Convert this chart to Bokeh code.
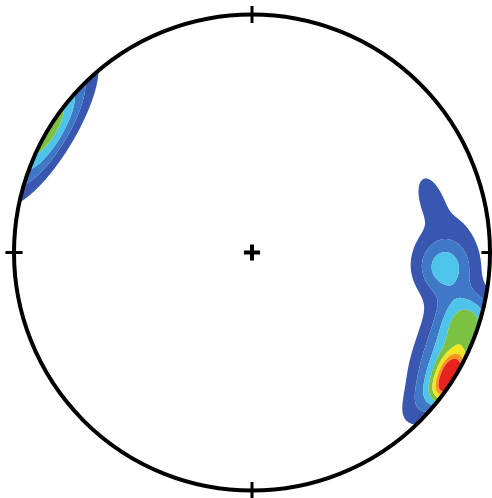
import numpy as np
from bokeh.plotting import figure
from bokeh.models import Range1d
from bokeh.embed import file_html
from bokeh.resources import INLINE

# Pole concentrations (lower hemisphere, equal-area net)
peak_trend = [94.7, 88.0, 106.9, 114.4, 123.6, 120.0, 124.6, 132.2, 72.2, 301.0]
peak_plunge = [20.1, 18.7, 5.2, 6.0, 3.0, 2.8, 1.1, 4.8, 22.9, 0.0]
spread_along = [0.08, 0.18, 0.08, 0.10, 0.10, 0.05, 0.05, 0.10, 0.07, 0.21]
spread_across = [0.08, 0.12, 0.085, 0.10, 0.10, 0.037, 0.037, 0.06, 0.035, 0.065]
peak_weight = [2.6, 1.2, 3.0, 2.8, 2.8, 3.6, 3.6, 1.2, 1.3, 4.6]

# Density contour intervals and their fills
contour_levels = [1, 2, 3, 4, 5, 6, 7, 1000]
contour_colors = ["#3957b0", "#3f78c6", "#4ec4ea", "#7cc242",
                  "#f2e51d", "#f7941d", "#e8231f"]

# Cardinal tick directions (degrees)
tick_trends = [0, 90, 180, 270]


def project(trend, plunge):
    r = np.sqrt(2.0) * np.sin(np.radians(90.0 - plunge) / 2.0)
    t = np.radians(trend)
    return r * np.sin(t), r * np.cos(t)


gx = np.linspace(-1.06, 1.06, 641)
gy = np.linspace(-1.06, 1.06, 641)
xx, yy = np.meshgrid(gx, gy)
dens = np.zeros_like(xx)
for tr, pl, sa, sc, w in zip(peak_trend, peak_plunge, spread_along,
                             spread_across, peak_weight):
    cx, cy = project(tr, pl)
    rr = np.hypot(cx, cy)
    ux, uy = (cx / rr, cy / rr) if rr > 0 else (0.0, 1.0)
    vx, vy = -uy, ux
    dx, dy = xx - cx, yy - cy
    dr = dx * ux + dy * uy
    dt = dx * vx + dy * vy
    dens += w * np.exp(-0.5 * (dr ** 2 / sc ** 2 + dt ** 2 / sa ** 2))
dens[np.hypot(xx, yy) > 1.0] = np.nan

R_PX = 238.0
p = figure(width=492, height=498,
           x_range=Range1d(-251.5 / R_PX, 240.5 / R_PX),
           y_range=Range1d(-246 / R_PX, 252 / R_PX),
           output_backend="svg", toolbar_location=None, min_border=0)
p.axis.visible = False
p.grid.visible = False
p.outline_line_color = None
p.background_fill_color = "white"

p.contour(gx, gy, dens, levels=contour_levels, fill_color=contour_colors,
          line_color=None)

# Primitive circle
p.circle(x=[0], y=[0], radius=1.0, fill_color=None, line_color="black",
         line_width=4)

# Cardinal ticks
tt = np.radians(tick_trends)
p.segment(x0=0.964 * np.sin(tt), y0=0.964 * np.cos(tt),
          x1=1.036 * np.sin(tt), y1=1.036 * np.cos(tt),
          line_color="black", line_width=3)

# Centre cross
p.segment(x0=[-0.034, 0], y0=[0, -0.034], x1=[0.034, 0], y1=[0, 0.034],
          line_color="black", line_width=4)

open("out.html", "w").write(file_html(p, INLINE))
